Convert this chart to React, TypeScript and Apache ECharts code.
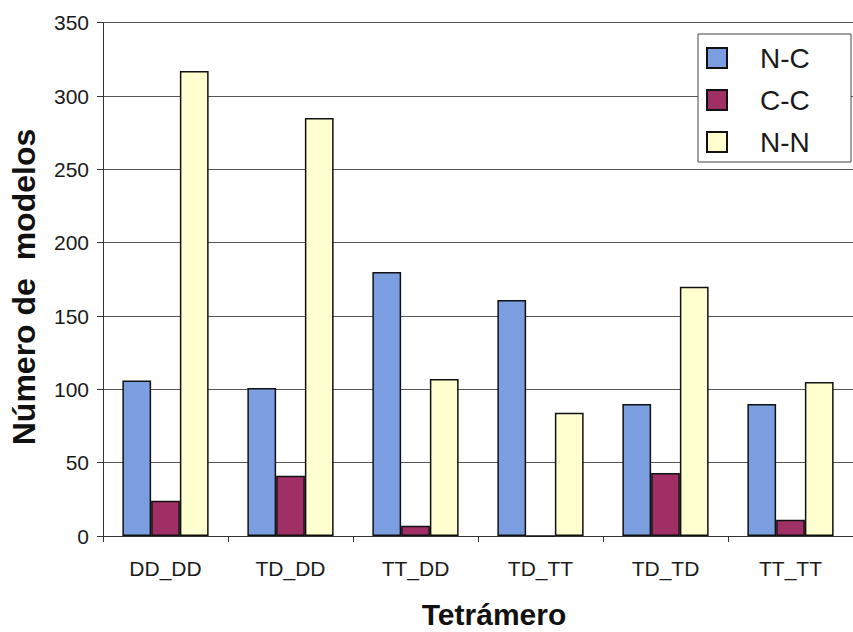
import React, { useEffect, useRef } from "react";
import * as echarts from "echarts";

const categories = ["DD_DD", "TD_DD", "TT_DD", "TD_TT", "TD_TD", "TT_TT"];
const seriesNames = ["N-C", "C-C", "N-N"];
const ncValues = [106, 101, 180, 161, 90, 90];
const ccValues = [24, 41, 7, 0, 43, 11];
const nnValues = [317, 285, 107, 84, 170, 105];
const colors = ["#7b9ee0", "#9f2f64", "#ffffd0"];
const yTicks = { min: 0, max: 350, interval: 50 };

export default function App() {
  const ref = useRef<HTMLDivElement>(null);
  useEffect(() => {
    if (!ref.current) return;
    const chart = echarts.init(ref.current, null, { renderer: "svg" });
    const font = "'Liberation Sans', Arial, sans-serif";
    const values = [ncValues, ccValues, nnValues];
    chart.setOption({
      animation: false,
      backgroundColor: "#ffffff",
      textStyle: { fontFamily: font },
      grid: { left: 103, top: 22.7, right: -12, bottom: 96, containLabel: false },
      xAxis: {
        type: "category",
        data: categories,
        axisLine: { lineStyle: { color: "#333", width: 1 } },
        axisTick: { show: true, length: 6, lineStyle: { color: "#333" } },
        axisLabel: { fontSize: 21, color: "#1a1a1a", margin: 22, fontFamily: font },
      },
      yAxis: {
        type: "value",
        min: yTicks.min,
        max: yTicks.max,
        interval: yTicks.interval,
        axisLine: { show: true, lineStyle: { color: "#333", width: 1 } },
        axisTick: { show: true, length: 6, lineStyle: { color: "#333" } },
        axisLabel: { fontSize: 21, color: "#1a1a1a", margin: 14, fontFamily: font },
        splitLine: { show: true, lineStyle: { color: "#555", width: 1 } },
      },
      legend: {
        orient: "vertical",
        left: 706,
        top: 44,
        padding: 0,
        icon: "rect",
        itemWidth: 20,
        itemHeight: 20,
        itemGap: 14,
        data: seriesNames,
        textStyle: {
          fontSize: 28,
          color: "#1a1a1a",
          fontFamily: font,
          lineHeight: 28,
          padding: [0, 0, 0, 28],
        },
        z: 10,
      },
      graphic: [
        {
          type: "rect",
          z: 5,
          shape: { x: 698, y: 34, width: 153, height: 128 },
          style: { fill: "#ffffff", stroke: "#444", lineWidth: 1 },
        },
        {
          type: "text",
          z: 5,
          x: 494,
          y: 614,
          style: {
            text: "Tetrámero",
            font: `bold 30px ${font}`,
            fill: "#111",
            textAlign: "center",
            textVerticalAlign: "middle",
          },
        },
        {
          type: "text",
          z: 5,
          x: 24,
          y: 287,
          rotation: Math.PI / 2,
          style: {
            text: "Número de  modelos",
            font: `bold 32px ${font}`,
            fill: "#111",
            textAlign: "center",
            textVerticalAlign: "middle",
          },
        },
      ],
      series: seriesNames.map((name, i) => ({
        name,
        type: "bar",
        data: values[i],
        barGap: "0%",
        barCategoryGap: "31%",
        itemStyle: { color: colors[i], borderColor: "#111", borderWidth: 1.5 },
      })),
    });
    return () => chart.dispose();
  }, []);
  return <div ref={ref} style={{ width: 853, height: 632, position: "absolute", left: 0, top: 0 }} />;
}
